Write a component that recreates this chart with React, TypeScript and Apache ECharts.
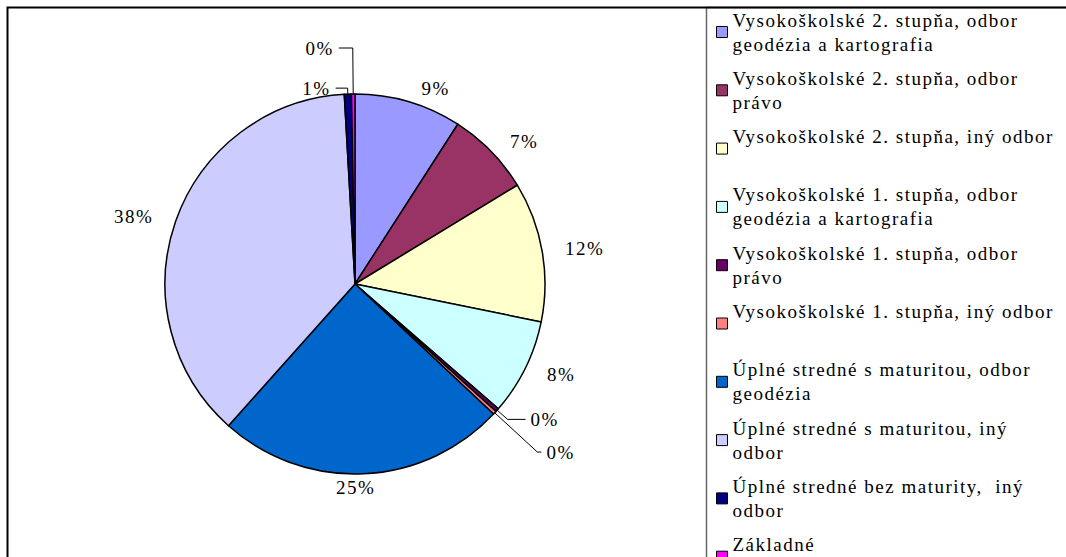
import React, { useEffect, useRef } from "react";
import * as echarts from "echarts";

const categories = [
  "Vysokoškolské 2. stupňa, odbor geodézia a kartografia",
  "Vysokoškolské 2. stupňa, odbor právo",
  "Vysokoškolské 2. stupňa, iný odbor",
  "Vysokoškolské 1. stupňa, odbor geodézia a kartografia",
  "Vysokoškolské 1. stupňa, odbor právo",
  "Vysokoškolské 1. stupňa, iný odbor",
  "Úplné stredné s maturitou, odbor geodézia",
  "Úplné stredné s maturitou, iný odbor",
  "Úplné stredné bez maturity,  iný odbor",
  "Základné",
];

const legendLabels = [
  "Vysokoškolské 2. stupňa, odbor\ngeodézia a kartografia",
  "Vysokoškolské 2. stupňa, odbor\nprávo",
  "Vysokoškolské 2. stupňa, iný odbor\n ",
  "Vysokoškolské 1. stupňa, odbor\ngeodézia a kartografia",
  "Vysokoškolské 1. stupňa, odbor\nprávo",
  "Vysokoškolské 1. stupňa, iný odbor\n ",
  "Úplné stredné s maturitou, odbor\ngeodézia",
  "Úplné stredné s maturitou, iný\nodbor",
  "Úplné stredné bez maturity,  iný\nodbor",
  "Základné\n ",
];

// share of respondents, %
const shares = [9.1, 7.2, 11.9, 8.2, 0.3, 0.3, 24.6, 37.5, 0.6, 0.3];

const colors = [
  "#9999FF",
  "#993366",
  "#FFFFCC",
  "#CCFFFF",
  "#660066",
  "#FF8080",
  "#0066CC",
  "#CCCCFF",
  "#000080",
  "#FF00FF",
];

const FONT = "Liberation Serif";

// label-line styling per slice (index -> label line settings)
const lineStyleByIndex: Record<number, any> = {
  4: { show: true, length: 14, length2: 18 },
  5: { show: true, length: 58, length2: 4 },
  6: { show: false, length: 14, length2: -33 },
  8: { show: true, length: 6, length2: 12 },
  9: { show: true, length: 46, length2: 14 },
};

export default function App() {
  const ref = useRef<HTMLDivElement>(null);

  useEffect(() => {
    if (!ref.current) return;
    const chart = echarts.init(ref.current, undefined, { renderer: "svg" });
    const option: any = {
      animation: false,
      backgroundColor: "#fff",
      graphic: [
        {
          type: "rect",
          shape: { x: 7.5, y: 7.5, width: 1080, height: 570 },
          style: { fill: "none", stroke: "#000", lineWidth: 2 },
          silent: true,
          z: 10,
        },
        {
          type: "rect",
          shape: { x: 706.5, y: 7.5, width: 400, height: 600 },
          style: { fill: "none", stroke: "#666", lineWidth: 1.5 },
          silent: true,
          z: 9,
        },
      ],
      legend: {
        orient: "vertical",
        left: 711,
        top: -9,
        height: 1000,
        itemWidth: 11,
        itemHeight: 11,
        itemGap: -13.7,
        icon: "rect",
        selectedMode: false,
        formatter: (name: string) => legendLabels[categories.indexOf(name)],
        textStyle: {
          fontFamily: FONT,
          fontSize: 19,
          color: "#000",
          lineHeight: 24,
          padding: [24, 0, 0, 0],
        },
        itemStyle: { borderColor: "#000", borderWidth: 1 },
      },
      series: [
        {
          type: "pie",
          center: [355, 284],
          radius: 190,
          startAngle: 90,
          clockwise: true,
          percentPrecision: 0,
          avoidLabelOverlap: true,
          emphasis: { disabled: true },
          itemStyle: { borderColor: "#000", borderWidth: 1.5 },
          label: {
            show: true,
            position: "outside",
            formatter: "{d}%",
            color: "#000",
            fontFamily: FONT,
            fontSize: 19,
          },
          labelLine: {
            show: false,
            length: 14,
            length2: 4,
            lineStyle: { color: "#000", width: 1 },
          },
          data: categories.map((name, i) => ({
            name,
            value: shares[i],
            itemStyle: { color: colors[i] },
            ...(lineStyleByIndex[i] ? { labelLine: lineStyleByIndex[i] } : {}),
          })),
        },
      ],
    };
    chart.setOption(option);
    return () => chart.dispose();
  }, []);

  return (
    <div
      ref={ref}
      style={{
        position: "absolute",
        left: 0,
        top: 0,
        width: 1066,
        height: 557,
        letterSpacing: "1.5px",
      }}
    />
  );
}
